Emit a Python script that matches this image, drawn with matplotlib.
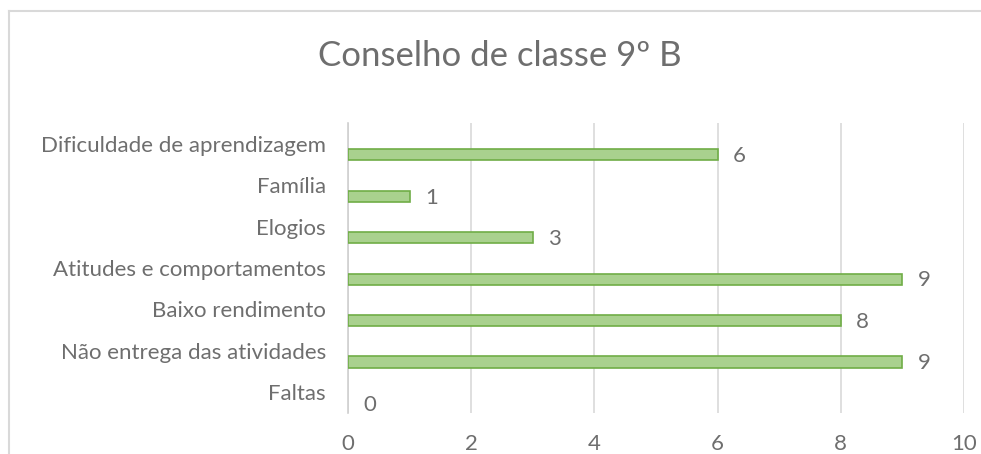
import matplotlib.pyplot as plt
from matplotlib.lines import Line2D

plt.rcParams['font.family'] = ['Lato', 'DejaVu Sans']

categorias = ["Faltas", "Não entrega das atividades", "Baixo rendimento",
              "Atitudes e comportamentos", "Elogios", "Família",
              "Dificuldade de aprendizagem"]
valores = [0, 9, 8, 9, 3, 1, 6]
xticks = [0, 2, 4, 6, 8, 10]

cinza = "#6e6e6e"

fig = plt.figure(figsize=(9.81, 4.54), dpi=100)
# borda da área do gráfico (só aparecem o lado esquerdo e o topo)
x0, y0 = 9 / 981, 1 - 11 / 454
fig.lines.append(Line2D([x0, x0], [0, y0], transform=fig.transFigure,
                        color="#d9d9d9", linewidth=1.5))
fig.lines.append(Line2D([x0, 1], [y0, y0], transform=fig.transFigure,
                        color="#d9d9d9", linewidth=1.5))

ax = fig.add_axes([348 / 981, 1 - 413 / 454, 616 / 981, 290 / 454])

# Excel deixa a barra deslocada para baixo dentro da categoria
pos = [i - 0.27 for i in range(len(categorias))]
bordas = ["none" if v == 0 else "#70ad47" for v in valores]
ax.barh(pos, valores, height=0.27, color="#a9d18e", edgecolor=bordas,
        linewidth=1.2, zorder=3)

for p, v in zip(pos, valores):
    ax.text(v + 0.25, p - 0.03, str(v), va="center", ha="left",
            fontsize=16, color=cinza)

ax.set_xlim(0, 10)
ax.set_ylim(-0.5, len(categorias) - 0.5)
ax.set_xticks(xticks)
ax.set_xticklabels([str(t) for t in xticks], fontsize=16, color=cinza)
ax.set_yticks(range(len(categorias)))
ax.set_yticklabels(categorias, fontsize=16, color=cinza)
ax.tick_params(length=0, axis="x", pad=15)
ax.tick_params(length=0, axis="y", pad=16)

ax.grid(axis="x", color="#d9d9d9", linewidth=1.2, zorder=0)
for s in ["top", "right", "bottom"]:
    ax.spines[s].set_visible(False)
ax.spines["left"].set_color("#d0d0d0")
ax.spines["left"].set_linewidth(1.2)

fig.text(500 / 981, 1 - 56 / 454, "Conselho de classe 9º B", ha="center",
         va="center", fontsize=25, color=cinza)

fig.savefig("out.png", dpi=100)
